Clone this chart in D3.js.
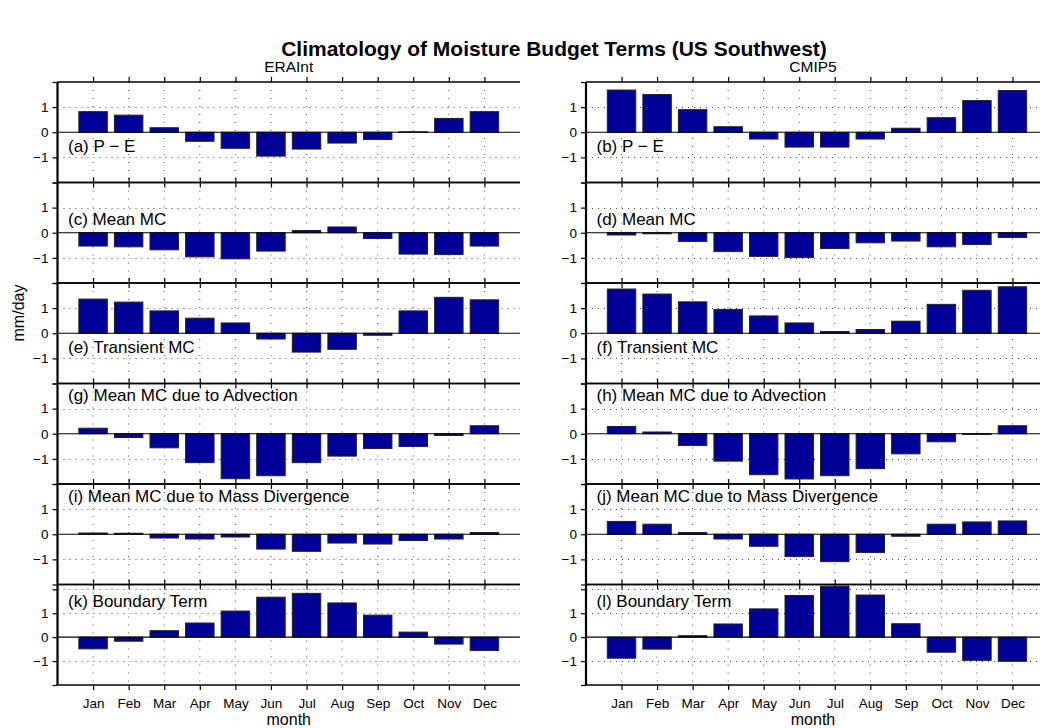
<!DOCTYPE html>
<html>
<head>
<meta charset="utf-8">
<script src="https://cdn.jsdelivr.net/npm/d3@7"></script>
<style>
  html, body { margin: 0; padding: 0; background: #fff; }
  svg { display: block; font-family: "Liberation Sans", Arial, Helvetica, sans-serif; }
</style>
</head>
<body>
<svg id="chart" width="1040" height="728"></svg>
<script>
// Monthly climatology of moisture budget terms, US Southwest (mm/day)
const months = ["Jan", "Feb", "Mar", "Apr", "May", "Jun", "Jul", "Aug", "Sep", "Oct", "Nov", "Dec"];
const datasets = ["ERAInt", "CMIP5"];

const panelLabels = [
  ["(a) P \u2212 E", "(b) P \u2212 E"],
  ["(c) Mean MC", "(d) Mean MC"],
  ["(e) Transient MC", "(f) Transient MC"],
  ["(g) Mean MC due to Advection", "(h) Mean MC due to Advection"],
  ["(i) Mean MC due to Mass Divergence", "(j) Mean MC due to Mass Divergence"],
  ["(k) Boundary Term", "(l) Boundary Term"]
];

// ERA-Interim
const eraPminusE    = [0.82, 0.68, 0.18, -0.36, -0.64, -0.95, -0.67, -0.43, -0.29, 0.02, 0.55, 0.82];
const eraMeanMC     = [-0.53, -0.56, -0.68, -0.96, -1.04, -0.73, 0.09, 0.23, -0.23, -0.85, -0.87, -0.53];
const eraTransient  = [1.36, 1.24, 0.89, 0.60, 0.41, -0.23, -0.75, -0.64, -0.08, 0.89, 1.43, 1.33];
const eraAdvection  = [0.22, -0.15, -0.56, -1.15, -1.79, -1.67, -1.15, -0.89, -0.59, -0.51, -0.07, 0.32];
const eraMassDiv    = [0.05, 0.04, -0.15, -0.19, -0.11, -0.59, -0.68, -0.35, -0.39, -0.25, -0.19, 0.07];
const eraBoundary   = [-0.49, -0.17, 0.27, 0.59, 1.09, 1.67, 1.83, 1.43, 0.92, 0.21, -0.29, -0.56];

// CMIP5 multi-model
const cmipPminusE   = [1.68, 1.50, 0.90, 0.22, -0.27, -0.59, -0.59, -0.27, 0.16, 0.58, 1.26, 1.66];
const cmipMeanMC    = [-0.09, -0.04, -0.35, -0.75, -0.94, -0.99, -0.63, -0.40, -0.33, -0.56, -0.47, -0.19];
const cmipTransient = [1.76, 1.56, 1.25, 0.95, 0.69, 0.41, 0.07, 0.15, 0.48, 1.15, 1.71, 1.85];
const cmipAdvection = [0.29, 0.07, -0.47, -1.09, -1.63, -1.80, -1.67, -1.39, -0.80, -0.32, -0.03, 0.32];
const cmipMassDiv   = [0.51, 0.40, 0.07, -0.19, -0.48, -0.89, -1.09, -0.73, -0.08, 0.40, 0.49, 0.53];
const cmipBoundary  = [-0.88, -0.50, 0.06, 0.55, 1.18, 1.74, 2.13, 1.76, 0.56, -0.63, -0.97, -1.01];

const seriesByRow = [
  [eraPminusE, cmipPminusE],
  [eraMeanMC, cmipMeanMC],
  [eraTransient, cmipTransient],
  [eraAdvection, cmipAdvection],
  [eraMassDiv, cmipMassDiv],
  [eraBoundary, cmipBoundary]
];

const yLimits = [[-2, 2], [-2, 2], [-2, 2], [-2, 2], [-2, 2], [-2, 2.2]];
const yTicks = [-2, -1, 0, 1, 2];
const yTickLabels = [-1, 0, 1];
const gridValues = [-1, 1, 2];

// ---- layout ----
const W = 1040;
const svg = d3.select("#chart");
const plotTop = 82;
const rowH = 100.5;
const colRanges = [[57.5, 520], [586, 1048]];
const labelBaseline = [69.5, 42.5, 70, 17.5, 17.5, 22];
const barColor = "#000099";
const fmt = d => (d < 0 ? "\u2212" + Math.abs(d) : String(d));

const x = colRanges.map(r => d3.scaleLinear().domain([0, 13]).range(r));

svg.append("text")
  .attr("x", 554).attr("y", 56)
  .attr("text-anchor", "middle")
  .attr("font-size", 21).attr("font-weight", "bold")
  .text("Climatology of Moisture Budget Terms (US Southwest)");

datasets.forEach((name, c) => {
  const [x0, x1] = x[c].range();
  svg.append("text")
    .attr("x", (x0 + Math.min(x1, W)) / 2).attr("y", 72)
    .attr("text-anchor", "middle").attr("font-size", 15.5)
    .text(name);
});

svg.append("text")
  .attr("transform", "translate(24,313) rotate(-90)")
  .attr("text-anchor", "middle").attr("font-size", 16)
  .text("mm/day");

seriesByRow.forEach((pair, r) => {
  const top = plotTop + r * rowH;
  const bottom = top + rowH;
  const y = d3.scaleLinear().domain(yLimits[r]).range([bottom, top]);
  const lastRow = r === seriesByRow.length - 1;

  pair.forEach((values, c) => {
    const xs = x[c];
    const [x0, x1] = xs.range();
    const g = svg.append("g");

    // dotted grid
    g.selectAll("line.vgrid").data(d3.range(1, 13)).join("line")
      .attr("x1", d => xs(d)).attr("x2", d => xs(d))
      .attr("y1", top).attr("y2", bottom)
      .attr("stroke", "#555").attr("stroke-width", 1)
      .attr("stroke-dasharray", "1,7");
    g.selectAll("line.hgrid").data(gridValues.filter(v => v < yLimits[r][1])).join("line")
      .attr("x1", x0).attr("x2", x1)
      .attr("y1", d => Math.round(y(d)) + 0.5).attr("y2", d => Math.round(y(d)) + 0.5)
      .attr("stroke", "#444").attr("stroke-width", 1)
      .attr("stroke-dasharray", "1,5");

    // panel label
    g.append("text")
      .attr("x", x0 + 10.5).attr("y", top + labelBaseline[r])
      .attr("font-size", 17)
      .text(panelLabels[r][c]);

    // bars
    g.selectAll("rect").data(values).join("rect")
      .attr("x", (d, i) => xs(i + 1 - 0.4))
      .attr("width", xs(0.8) - xs(0))
      .attr("y", d => y(Math.max(0, d)))
      .attr("height", d => Math.abs(y(d) - y(0)))
      .attr("fill", barColor)
      .attr("stroke", "#222").attr("stroke-width", 1);

    // zero line
    g.append("line")
      .attr("x1", x0).attr("x2", x1)
      .attr("y1", y(0)).attr("y2", y(0))
      .attr("stroke", "#000").attr("stroke-width", 1.2);

    // top and bottom frame with outward month ticks
    g.append("line").attr("x1", x0).attr("x2", x1)
      .attr("y1", top).attr("y2", top)
      .attr("stroke", "#000").attr("stroke-width", 1.5);
    g.append("line").attr("x1", x0).attr("x2", x1)
      .attr("y1", bottom).attr("y2", bottom)
      .attr("stroke", "#000").attr("stroke-width", 1.5);
    g.append("g")
      .attr("transform", `translate(0,${top})`)
      .call(d3.axisTop(xs).tickValues(d3.range(1, 13)).tickSize(5).tickFormat(""))
      .call(a => a.select(".domain").remove())
      .call(a => a.selectAll("line").attr("stroke-width", 1.2));
    const bottomAxis = d3.axisBottom(xs).tickValues(d3.range(1, 13)).tickSize(5).tickPadding(8);
    g.append("g")
      .attr("transform", `translate(0,${bottom})`)
      .call(bottomAxis.tickFormat(lastRow ? (d => months[d - 1]) : ""))
      .call(a => a.select(".domain").remove())
      .call(a => a.selectAll("line").attr("stroke-width", 1.2))
      .call(a => a.selectAll("text").attr("font-size", 13.5).attr("font-family", null).attr("fill", "#000"));

    // left axis
    const yAxis = d3.axisLeft(y).tickValues(yTicks).tickSize(5).tickPadding(4)
      .tickFormat(d => yTickLabels.includes(d) ? fmt(d) : "");
    g.append("g")
      .attr("transform", `translate(${x0},0)`)
      .call(yAxis)
      .call(a => a.select(".domain").remove())
      .call(a => a.selectAll("line").attr("stroke-width", 1.2))
      .call(a => a.selectAll("text").attr("font-size", 13.5).attr("font-family", null).attr("fill", "#000"));
    g.append("line").attr("x1", x0).attr("x2", x0)
      .attr("y1", top).attr("y2", bottom)
      .attr("stroke", "#000").attr("stroke-width", 2.2);

    if (lastRow) {
      svg.append("text")
        .attr("x", (x0 + Math.min(x1, W)) / 2).attr("y", 725)
        .attr("text-anchor", "middle").attr("font-size", 16)
        .text("month");
    }
  });
});
</script>
</body>
</html>
